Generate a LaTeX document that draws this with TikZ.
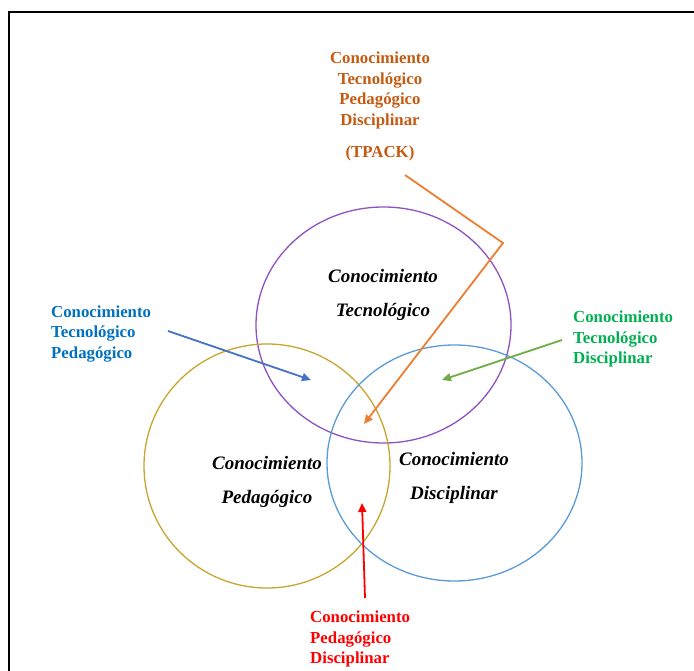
\documentclass[tikz,border=0pt]{standalone}
\usepackage{fontspec}
\setmainfont{Liberation Serif}
\usetikzlibrary{arrows.meta}
\definecolor{torange}{HTML}{C55A11}
\definecolor{tblue}{HTML}{0070C0}
\definecolor{tgreen}{HTML}{00B050}
\definecolor{tred}{HTML}{FF0000}
\definecolor{aorange}{HTML}{ED7D31}
\definecolor{ablue}{HTML}{4472C4}
\definecolor{agreen}{HTML}{70AD47}
\definecolor{cpurple}{HTML}{8E52C0}
\definecolor{cgold}{HTML}{C9A42E}
\definecolor{cblue}{HTML}{5B9BD5}
\tikzset{
  lbl/.style={font=\fontsize{16.8}{20.8}\selectfont\bfseries, inner sep=0pt},
  clbl/.style={font=\fontsize{19}{34}\selectfont\bfseries\itshape, align=center, inner sep=0pt},
  circ/.style={line width=1.3pt},
  arr/.style={line width=1.8pt, -{Triangle[length=9pt,width=8pt]}},
}
\begin{document}
\begin{tikzpicture}[x=1pt,y=-1pt]
\useasboundingbox (0,0) rectangle (694,671);
\draw[line width=2pt] (9,671) -- (9,12) -- (694,12);
% circles
\draw[circ, cpurple] (383.5,325) ellipse [x radius=127.5, y radius=118];
\draw[circ, cgold] (267,466) ellipse [x radius=123, y radius=122];
\draw[circ, cblue] (454.5,463) ellipse [x radius=127.5, y radius=118];
% circle labels
\node[clbl] (tec) at (383,295) {Conocimiento\\Tecnológico};
\node[clbl] (ped) at (267,482) {Conocimiento\\Pedagógico};
\node[clbl] (dis) at (454,477.5) {Conocimiento\\Disciplinar};
% outer labels
\node[lbl, torange, align=center] (tpackt) at (380,90.5) {Conocimiento\\Tecnológico\\Pedagógico\\Disciplinar};
\node[lbl, torange] (tpack) at (380,153) {(TPACK)};
\node[lbl, tblue, align=left, anchor=west] (tp) at (51,334) {Conocimiento\\Tecnológico\\Pedagógico};
\node[lbl, tgreen, align=left, anchor=west] (td) at (573,339) {Conocimiento\\Tecnológico\\Disciplinar};
\node[lbl, tred, align=left, anchor=west] (pd) at (310,639) {Conocimiento\\Pedagógico\\Disciplinar};
% arrow coordinates
\coordinate (o1) at (405,175);
\coordinate (o2) at (503,243);
\coordinate (o3) at (364,424);
\coordinate (b1) at (168,331);
\coordinate (b2) at (311,380);
\coordinate (g1) at (562,340);
\coordinate (g2) at (442,380);
\coordinate (r1) at (365,598);
\coordinate (r2) at (362,503);
\draw[arr, aorange, line join=miter] (o1) -- (o2) -- (o3);
\draw[arr, ablue] (b1) -- (b2);
\draw[arr, agreen] (g1) -- (g2);
\draw[arr, tred] (r1) -- (r2);
\end{tikzpicture}
\end{document}
